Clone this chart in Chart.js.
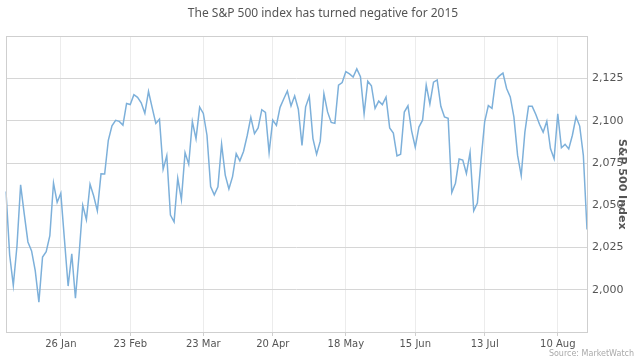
<!DOCTYPE html>
<html>
<head>
<meta charset="utf-8">
<script src="https://cdn.jsdelivr.net/npm/chart.js@4"></script>
<style>
  html, body { margin: 0; padding: 0; background: #fff; }
  #wrap { width: 640px; height: 360px; }
</style>
</head>
<body>
<div id="wrap"><canvas id="spxChart"></canvas></div>
<script>
const dates = [
  "2 Jan","5 Jan","6 Jan","7 Jan","8 Jan","9 Jan","12 Jan","13 Jan","14 Jan","15 Jan","16 Jan","20 Jan","21 Jan","22 Jan","23 Jan","26 Jan","27 Jan","28 Jan","29 Jan","30 Jan",
  "2 Feb","3 Feb","4 Feb","5 Feb","6 Feb","9 Feb","10 Feb","11 Feb","12 Feb","13 Feb","17 Feb","18 Feb","19 Feb","20 Feb","23 Feb","24 Feb","25 Feb","26 Feb","27 Feb",
  "2 Mar","3 Mar","4 Mar","5 Mar","6 Mar","9 Mar","10 Mar","11 Mar","12 Mar","13 Mar","16 Mar","17 Mar","18 Mar","19 Mar","20 Mar","23 Mar","24 Mar","25 Mar","26 Mar","27 Mar","30 Mar","31 Mar",
  "1 Apr","2 Apr","6 Apr","7 Apr","8 Apr","9 Apr","10 Apr","13 Apr","14 Apr","15 Apr","16 Apr","17 Apr","20 Apr","21 Apr","22 Apr","23 Apr","24 Apr","27 Apr","28 Apr","29 Apr","30 Apr",
  "1 May","4 May","5 May","6 May","7 May","8 May","11 May","12 May","13 May","14 May","15 May","18 May","19 May","20 May","21 May","22 May","26 May","27 May","28 May","29 May",
  "1 Jun","2 Jun","3 Jun","4 Jun","5 Jun","8 Jun","9 Jun","10 Jun","11 Jun","12 Jun","15 Jun","16 Jun","17 Jun","18 Jun","19 Jun","22 Jun","23 Jun","24 Jun","25 Jun","26 Jun","29 Jun","30 Jun",
  "1 Jul","2 Jul","6 Jul","7 Jul","8 Jul","9 Jul","10 Jul","13 Jul","14 Jul","15 Jul","16 Jul","17 Jul","20 Jul","21 Jul","22 Jul","23 Jul","24 Jul","27 Jul","28 Jul","29 Jul","30 Jul","31 Jul",
  "3 Aug","4 Aug","5 Aug","6 Aug","7 Aug","10 Aug","11 Aug","12 Aug","13 Aug","14 Aug","17 Aug","18 Aug","19 Aug","20 Aug"
];

const closes = [
  2058.2,2020.6,2002.6,2025.9,2062.1,2044.8,2028.3,2023.0,2011.3,1992.7,2019.4,2022.6,2032.1,2063.2,2051.8,2057.1,2029.6,2002.2,2021.3,1995.0,
  2020.9,2050.0,2041.5,2062.5,2055.5,2046.7,2068.6,2068.5,2088.5,2097.0,2100.3,2099.7,2097.5,2110.3,2109.7,2115.5,2113.9,2110.7,2104.5,
  2117.4,2107.8,2098.5,2101.0,2071.3,2079.4,2044.2,2040.2,2066.0,2053.4,2081.2,2074.3,2099.5,2089.3,2108.1,2104.4,2091.5,2061.1,2056.2,2061.0,2086.2,2067.9,
  2059.7,2067.0,2080.6,2076.3,2081.9,2091.2,2102.1,2092.4,2095.8,2106.6,2105.0,2081.2,2100.4,2097.3,2108.0,2112.9,2117.7,2108.9,2114.8,2106.9,2085.5,
  2108.3,2114.5,2089.5,2080.2,2088.0,2116.1,2105.3,2099.1,2098.5,2121.1,2122.7,2129.2,2127.8,2125.9,2130.8,2126.1,2104.2,2123.5,2120.8,2107.4,
  2111.7,2109.6,2114.1,2095.8,2092.8,2079.3,2080.2,2105.2,2108.9,2094.1,2084.4,2096.3,2100.4,2121.2,2110.0,2122.9,2124.2,2108.6,2102.3,2101.5,2057.6,2063.1,
  2077.4,2076.8,2068.8,2081.3,2046.7,2051.3,2076.6,2099.6,2109.0,2107.4,2124.3,2126.6,2128.3,2119.2,2114.2,2102.2,2079.7,2067.6,2093.3,2108.6,2108.6,2103.8,
  2098.0,2093.3,2099.8,2083.6,2077.6,2104.2,2084.1,2086.1,2083.4,2091.5,2102.4,2096.9,2079.6,2035.7
];

const tickLabels = ["26 Jan", "23 Feb", "23 Mar", "20 Apr", "18 May", "15 Jun", "13 Jul", "10 Aug"];
const yTicksShown = [2000, 2025, 2050, 2075, 2100, 2125];

// box round the plot + source line + overlapping axis title
const extras = {
  id: "extras",
  afterDraw(chart) {
    const { ctx, chartArea: a } = chart;
    ctx.save();
    ctx.strokeStyle = "#cfcfcf";
    ctx.lineWidth = 1;
    ctx.strokeRect(Math.round(a.left) + 0.5, Math.round(a.top) + 0.5,
      Math.round(a.right - a.left), Math.round(a.bottom - a.top));

    ctx.fillStyle = "#555";
    ctx.font = "bold 11px 'DejaVu Sans'";
    ctx.translate(622, (a.top + a.bottom) / 2);
    ctx.rotate(Math.PI / 2);
    ctx.textAlign = "center";
    ctx.textBaseline = "middle";
    ctx.fillText("S&P 500 Index", 0, 0);
    ctx.restore();

    ctx.save();
    ctx.fillStyle = "#aaa";
    ctx.font = "8px 'DejaVu Sans'";
    ctx.textAlign = "right";
    ctx.textBaseline = "middle";
    ctx.fillText("Source: MarketWatch", 634, 354);
    ctx.restore();
  }
};

new Chart(document.getElementById("spxChart"), {
  type: "line",
  data: {
    labels: dates,
    datasets: [{
      label: "S&P 500",
      data: closes,
      borderColor: "#7db0da",
      borderWidth: 1.5,
      pointRadius: 0,
      tension: 0,
      fill: false
    }]
  },
  options: {
    responsive: true,
    maintainAspectRatio: false,
    animation: false,
    layout: { padding: { left: 6, right: 0, top: 0, bottom: 8 } },
    plugins: {
      legend: { display: false },
      tooltip: { enabled: false },
      title: {
        display: true,
        text: "The S&P 500 index has turned negative for 2015",
        color: "#555",
        font: { family: "'Noto Sans'", size: 12, weight: "normal" },
        padding: { top: 6, bottom: 16 }
      }
    },
    scales: {
      x: {
        offset: false,
        grid: { color: "#ececec", tickLength: 4, tickColor: "#cfcfcf" },
        border: { color: "#cfcfcf" },
        ticks: {
          autoSkip: false,
          maxRotation: 0,
          color: "#555",
          font: { family: "'DejaVu Sans'", size: 10 },
          padding: 2,
          callback(value) {
            const lbl = this.getLabelForValue(value);
            return tickLabels.includes(lbl) ? lbl : null;
          }
        }
      },
      y: {
        position: "right",
        min: 1975,
        max: 2150,
        afterFit(scale) { scale.width = 53; },
        grid: { color: "#d6d6d6", drawTicks: false },
        border: { color: "#cfcfcf" },
        ticks: {
          stepSize: 25,
          color: "#555",
          padding: 5,
          font: { family: "'DejaVu Sans'", size: 11 },
          callback(v) {
            return yTicksShown.includes(v) ? v.toLocaleString("en-US") : "";
          }
        }
      }
    }
  },
  plugins: [extras]
});
</script>
</body>
</html>
